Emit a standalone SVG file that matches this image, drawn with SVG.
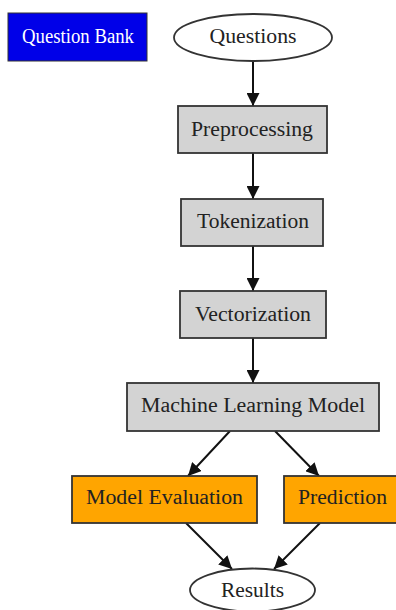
<svg xmlns="http://www.w3.org/2000/svg" width="396" height="610" viewBox="0 0 396 610">
<style>
text{font-family:"Liberation Serif","Times New Roman",serif;font-size:20px;fill:#222;text-anchor:middle}
.box{stroke:#333;stroke-width:1.8}
.grey{fill:#d3d3d3}
.orange{fill:#ffa500}
.edge{stroke:#111;stroke-width:2;fill:none}
</style>
<defs>
<marker id="ah" markerWidth="13" markerHeight="13" refX="13" refY="6.5" orient="auto" markerUnits="userSpaceOnUse">
<path d="M0,0 L13,6.5 L0,13 Z" fill="#111"/>
</marker>
</defs>
<rect width="396" height="610" fill="#fff"/>
<g id="connectors">
<line class="edge" x1="253" y1="61" x2="253" y2="106" marker-end="url(#ah)"/>
<line class="edge" x1="253" y1="153" x2="253" y2="199" marker-end="url(#ah)"/>
<line class="edge" x1="253" y1="246" x2="253" y2="291" marker-end="url(#ah)"/>
<line class="edge" x1="253" y1="338" x2="253" y2="383" marker-end="url(#ah)"/>
<line class="edge" x1="230" y1="431" x2="188" y2="476" marker-end="url(#ah)"/>
<line class="edge" x1="275" y1="431" x2="319" y2="476" marker-end="url(#ah)"/>
<line class="edge" x1="186" y1="523" x2="232" y2="569" marker-end="url(#ah)"/>
<line class="edge" x1="320" y1="523" x2="274" y2="569" marker-end="url(#ah)"/>
</g>
<g id="question_bank">
<rect x="8" y="13" width="139" height="48" fill="#0000e8" stroke="#333" stroke-width="1"/>
<text x="78" y="43" style="fill:#fff" textLength="112" lengthAdjust="spacingAndGlyphs">Question Bank</text>
</g>
<g id="questions">
<ellipse cx="253" cy="37.5" rx="79" ry="23.5" fill="#fff" class="box"/>
<text x="253" y="43" textLength="87" lengthAdjust="spacingAndGlyphs">Questions</text>
</g>
<g id="preprocessing">
<rect x="178" y="106" width="149" height="47" class="box grey"/>
<text x="252" y="136" textLength="122" lengthAdjust="spacingAndGlyphs">Preprocessing</text>
</g>
<g id="tokenization">
<rect x="181" y="199" width="142" height="47" class="box grey"/>
<text x="253" y="228" textLength="112" lengthAdjust="spacingAndGlyphs">Tokenization</text>
</g>
<g id="vectorization">
<rect x="180" y="291" width="146" height="47" class="box grey"/>
<text x="253" y="321" textLength="116" lengthAdjust="spacingAndGlyphs">Vectorization</text>
</g>
<g id="ml_model">
<rect x="127" y="383" width="252" height="48" class="box grey"/>
<text x="253" y="412" textLength="224" lengthAdjust="spacingAndGlyphs">Machine Learning Model</text>
</g>
<g id="model_evaluation">
<rect x="72" y="476" width="185" height="47" class="box orange"/>
<text x="164.5" y="504" textLength="157" lengthAdjust="spacingAndGlyphs">Model Evaluation</text>
</g>
<g id="prediction">
<rect x="284" y="476" width="114" height="47" class="box orange"/>
<text x="342.5" y="504" textLength="89" lengthAdjust="spacingAndGlyphs">Prediction</text>
</g>
<g id="results">
<ellipse cx="252.5" cy="590" rx="62.5" ry="21.5" fill="#fff" class="box"/>
<text x="252.5" y="597" textLength="63" lengthAdjust="spacingAndGlyphs">Results</text>
</g>
</svg>
